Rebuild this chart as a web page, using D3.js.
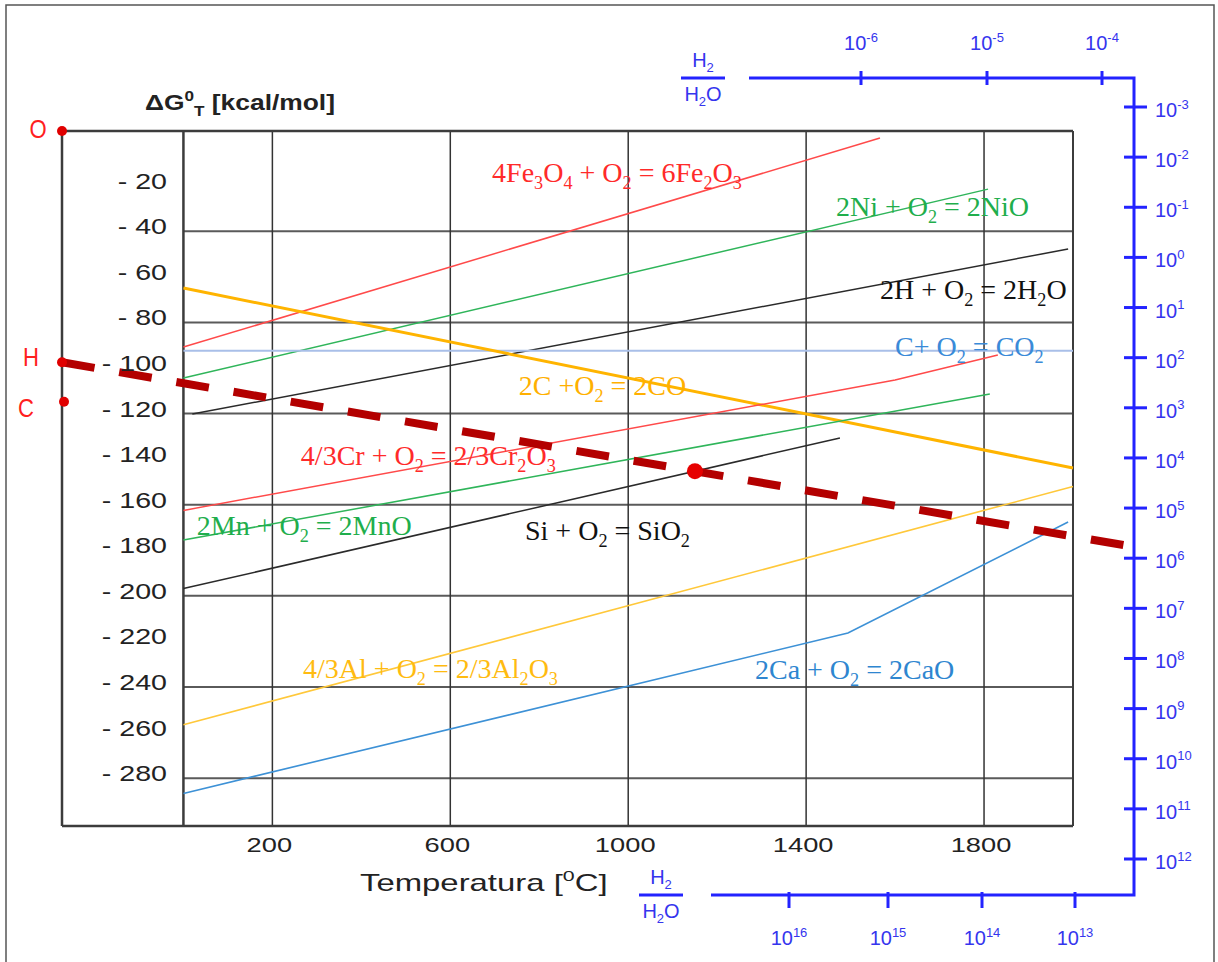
<!DOCTYPE html>
<html>
<head>
<meta charset="utf-8">
<script src="https://cdn.jsdelivr.net/npm/d3@7"></script>
<style>
  html, body { margin: 0; padding: 0; background: #fff; }
  text { white-space: pre; }
</style>
</head>
<body>
<svg id="chart" width="1218" height="962"></svg>
<script>
// ---- Axis values -------------------------------------------------------
const tempDomain = [-273, 2000];          // °C, left edge is absolute zero
const energyDomain = [4, -301];           // kcal/mol, drawn extent of the frame
const tempTicks = [200, 600, 1000, 1400, 1800];
const energyTicks = [-20, -40, -60, -80, -100, -120, -140, -160, -180, -200, -220, -240, -260, -280];
const energyGrid = [-40, -80, -120, -160, -200, -240, -280];

// ---- Oxidation lines: [T (°C), ΔG° (kcal/mol)] ------------------------
const feOx  = [[0, -90.8], [1566, 0.9]];
const niOx  = [[0, -104.4], [1809, -21.5]];
const h2Ox  = [[20, -120.2], [1989, -47.8]];
const co2Ox = [[0, -92.4], [2000, -92.4]];
const coOx  = [[0, -64.9], [2000, -143.9]];
const crOx  = [[0, -162.5], [1600, -105.3], [1831, -94.3]];
const mnOx  = [[0, -175.5], [1813, -111.4]];
const siOx  = [[0, -196.8], [1476, -130.7]];
const alOx  = [[0, -256.6], [2000, -152.0]];
const caOx  = [[0, -286.7], [1494, -216.3], [1989, -167.6]];

const reactionSeries = [feOx, niOx, h2Ox, co2Ox, coOx, crOx, mnOx, siOx, alOx, caOx];
const reactionNames = [
  "4Fe_{3}O_{4} + O_{2} = 6Fe_{2}O_{3}",
  "2Ni + O_{2} = 2NiO",
  "2H + O_{2} = 2H_{2}O",
  "C+ O_{2} = CO_{2}",
  "2C +O_{2} = 2CO",
  "4/3Cr + O_{2} = 2/3Cr_{2}O_{3}",
  "2Mn + O_{2} = 2MnO",
  "Si + O_{2} = SiO_{2}",
  "4/3Al + O_{2} = 2/3Al_{2}O_{3}",
  "2Ca + O_{2} = 2CaO"
];
// where each reaction's name sits, in chart units [T, ΔG]
const reactionNameAt = [
  [694, -18.4], [1467, -33.3], [1566, -69.7], [1600, -94.7], [754, -111.9],
  [264, -142.6], [30, -173.3], [768, -175.5], [269, -236.0], [1285, -236.5]
];
const lineColors = ["#ff4a4a", "#2fb55a", "#2a2a2a", "#a9bfe8", "#ffb400",
                    "#ff4a4a", "#2fb55a", "#2a2a2a", "#ffc83a", "#3d91d6"];
const textColors = ["#ff2a2a", "#1fae4c", "#111111", "#3a8ad8", "#ffb000",
                    "#ff2a2a", "#1fae4c", "#111111", "#ffbb10", "#2e86d0"];
const lineWidths = [1.5, 1.5, 1.5, 2, 3, 1.5, 1.5, 1.5, 1.6, 1.6];

// ---- Reference points on the 0 K axis and the H2/H2O construction -------
const refNames = ["O", "H", "C"];
const refPoints = [[-273, 4], [-273, -97.5], [-273, -114.8]];
const hRay = [[-273, -97.5], [2128, -178.2]];
const siPoint = [1150, -145.3];

// ---- H2/H2O ratio scales (exponents of ten) ----------------------------
const rightExps = [-3, -2, -1, 0, 1, 2, 3, 4, 5, 6, 7, 8, 9, 10, 11, 12];
const topExps = [-6, -5, -4];
const bottomExps = [16, 15, 14, 13];

// ---- Layout ------------------------------------------------------------
const svg = d3.select("#chart");
const x = d3.scaleLinear().domain(tempDomain).range([62, 1073]);
const y = d3.scaleLinear().domain(energyDomain).range([131, 826]);

const rightY = d3.scaleLinear().domain([-3, 12]).range([107, 859]);
const topX = d3.scaleLinear().domain([-6, -5, -4]).range([861, 987, 1102]);
const bottomX = d3.scaleLinear().domain([16, 15, 14, 13]).range([789, 888, 982, 1075]);

const SANS = "'Liberation Sans', Arial, sans-serif";
const SERIF = "'Liberation Serif', 'Times New Roman', serif";

// text with _{sub} and ^{sup} markup, optionally stretched horizontally
function richText(parent, str, o) {
  const g = parent.append("g")
    .attr("transform", `translate(${o.x},${o.y}) scale(${o.sx || 1},1)`);
  const t = g.append("text")
    .attr("font-family", o.family || SANS)
    .attr("font-size", o.size)
    .attr("font-weight", o.weight || "normal")
    .attr("fill", o.fill || "#222")
    .attr("text-anchor", o.anchor || "start");
  const parts = str.split(/(_\{[^}]*\}|\^\{[^}]*\})/).filter(s => s.length);
  let shift = 0;
  parts.forEach(p => {
    let txt = p, fs = null, target = 0;
    if (p.startsWith("_{")) { txt = p.slice(2, -1); fs = o.size * 0.65; target = o.size * 0.25; }
    else if (p.startsWith("^{")) { txt = p.slice(2, -1); fs = o.size * 0.65; target = -o.size * 0.42; }
    const ts = t.append("tspan").text(txt).attr("dy", target - shift);
    if (fs) ts.attr("font-size", fs);
    shift = target;
  });
  return t;
}

// outer border
svg.append("rect").attr("x", 6).attr("y", 5).attr("width", 1208).attr("height", 1000)
  .attr("fill", "none").attr("stroke", "#555").attr("stroke-width", 1.5);

// ---- grid --------------------------------------------------------------
const grid = svg.append("g");
grid.selectAll("line.h").data(energyGrid).join("line")
  .attr("x1", x(0)).attr("x2", x(2000))
  .attr("y1", d => y(d)).attr("y2", d => y(d))
  .attr("stroke", "#5a5a5a").attr("stroke-width", 2);
grid.selectAll("line.v").data(tempTicks).join("line")
  .attr("x1", d => x(d)).attr("x2", d => x(d))
  .attr("y1", y(energyDomain[0])).attr("y2", y(energyDomain[1]))
  .attr("stroke", "#333").attr("stroke-width", 1.5);

// ---- frame -------------------------------------------------------------
const frame = svg.append("g").attr("stroke", "#3c3c3c").attr("fill", "none");
const xl = x(tempDomain[0]), x0 = x(0), xr = x(2000);
const yt = y(energyDomain[0]), yb = y(energyDomain[1]);
frame.append("line").attr("x1", xl).attr("x2", xr).attr("y1", yt).attr("y2", yt).attr("stroke-width", 2.5);
frame.append("line").attr("x1", xl).attr("x2", xr).attr("y1", yb).attr("y2", yb).attr("stroke-width", 2.5);
frame.append("line").attr("x1", xl).attr("x2", xl).attr("y1", yt).attr("y2", yb).attr("stroke-width", 2.5);
frame.append("line").attr("x1", x0).attr("x2", x0).attr("y1", yt).attr("y2", yb).attr("stroke-width", 2.5);
frame.append("line").attr("x1", xr).attr("x2", xr).attr("y1", yt).attr("y2", yb).attr("stroke-width", 2);

// ---- reaction lines ----------------------------------------------------
const line = d3.line().x(d => x(d[0])).y(d => y(d[1]));
svg.append("g").selectAll("path").data(reactionSeries).join("path")
  .attr("d", line)
  .attr("fill", "none")
  .attr("stroke", (d, i) => lineColors[i])
  .attr("stroke-width", (d, i) => lineWidths[i]);

// reaction names
reactionNames.forEach((name, i) => {
  richText(svg, name, {
    x: x(reactionNameAt[i][0]), y: y(reactionNameAt[i][1]),
    size: 28, family: SERIF, fill: textColors[i]
  });
});

// ---- H2/H2O construction line ------------------------------------------
svg.append("path").datum(hRay).attr("d", line)
  .attr("fill", "none").attr("stroke", "#b30000")
  .attr("stroke-width", 8).attr("stroke-dasharray", "33 25");
svg.append("circle").attr("cx", x(siPoint[0])).attr("cy", y(siPoint[1])).attr("r", 8)
  .attr("fill", "#e60000");

// reference points on the absolute-zero axis
const refOffsets = [[-24, 7], [-31, 4], [-36, 15]];
refPoints.forEach((p, i) => {
  svg.append("circle").attr("cx", x(p[0]) + (i === 2 ? 2 : 0)).attr("cy", y(p[1])).attr("r", 5)
    .attr("fill", "#e00000");
  richText(svg, refNames[i], {
    x: x(p[0]) + refOffsets[i][0], y: y(p[1]) + refOffsets[i][1],
    size: 26, fill: "#ff2020", anchor: "middle", sx: 0.85
  });
});

// ---- axis labels -------------------------------------------------------
energyTicks.forEach(v => {
  richText(svg, "- " + Math.abs(v), {
    x: 167, y: y(v) + 3, size: 22, anchor: "end", sx: 1.3, fill: "#222"
  });
});
tempTicks.forEach(t => {
  richText(svg, String(t), {
    x: x(t) - 3, y: 852, size: 21, anchor: "middle", sx: 1.3, fill: "#222"
  });
});
richText(svg, "Temperatura [^{0}C]", { x: 360, y: 891, size: 23, sx: 1.43, fill: "#222" });
richText(svg, "ΔG^{0}_{T} [kcal/mol]", { x: 145, y: 110, size: 22, sx: 1.2, weight: "bold", fill: "#222" });

// ---- H2/H2O ratio nomogram ---------------------------------------------
const BLUE = "#2323ff", BLUE_TXT = "#3535ee";
const nomo = svg.append("g").attr("stroke", BLUE).attr("stroke-width", 3).attr("fill", "none");
const nx = 1134, ny0 = 78, ny1 = 895;
nomo.append("path").attr("d", `M749,${ny0} H${nx} V${ny1} H711`);

// right scale
nomo.selectAll("line.r").data(rightExps).join("line")
  .attr("x1", nx - 10).attr("x2", nx + 13)
  .attr("y1", d => rightY(d)).attr("y2", d => rightY(d));
rightExps.forEach(e => {
  richText(svg, "10^{" + e + "}", { x: 1155, y: rightY(e) + 10, size: 20, fill: BLUE_TXT });
});
// top scale
nomo.selectAll("line.t").data(topExps).join("line")
  .attr("x1", d => topX(d)).attr("x2", d => topX(d))
  .attr("y1", ny0 - 7).attr("y2", ny0 + 7);
topExps.forEach(e => {
  richText(svg, "10^{" + e + "}", { x: topX(e), y: 50, size: 20, fill: BLUE_TXT, anchor: "middle" });
});
// bottom scale
nomo.selectAll("line.b").data(bottomExps).join("line")
  .attr("x1", d => bottomX(d)).attr("x2", d => bottomX(d))
  .attr("y1", ny1 - 3).attr("y2", ny1 + 13);
bottomExps.forEach(e => {
  richText(svg, "10^{" + e + "}", { x: bottomX(e), y: 945, size: 20, fill: BLUE_TXT, anchor: "middle" });
});

// ratio captions
function ratioCaption(cx, barY) {
  svg.append("line").attr("x1", cx - 22).attr("x2", cx + 22).attr("y1", barY).attr("y2", barY)
    .attr("stroke", BLUE).attr("stroke-width", 3);
  richText(svg, "H_{2}", { x: cx, y: barY - 11, size: 20, fill: BLUE_TXT, anchor: "middle" });
  richText(svg, "H_{2}O", { x: cx, y: barY + 23, size: 20, fill: BLUE_TXT, anchor: "middle" });
}
ratioCaption(703, ny0);
ratioCaption(661, ny1);
</script>
</body>
</html>
